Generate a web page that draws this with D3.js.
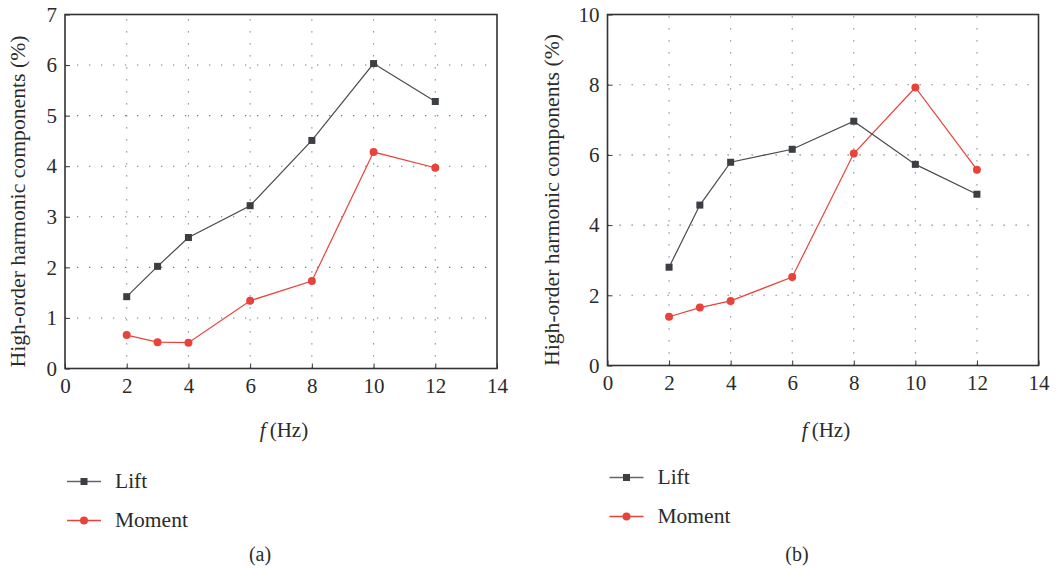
<!DOCTYPE html>
<html>
<head>
<meta charset="utf-8">
<script src="https://cdn.jsdelivr.net/npm/d3@7"></script>
<style>
  body { margin: 0; background: #fff; }
  svg { display: block; }
  svg text { font-family: "Liberation Serif", "Tinos", "Times New Roman", serif; fill: #2b2b2b; }
</style>
</head>
<body>
<svg id="chart" width="1059" height="571"></svg>
<script>
// Frequencies (Hz)
const freqs = [2, 3, 4, 6, 8, 10, 12];

// Panel (a)
const liftA   = [1.42, 2.02, 2.59, 3.22, 4.51, 6.03, 5.28];
const momentA = [0.66, 0.52, 0.51, 1.34, 1.73, 4.28, 3.97];

// Panel (b)
const liftB   = [2.80, 4.57, 5.79, 6.16, 6.96, 5.73, 4.88];
const momentB = [1.39, 1.65, 1.84, 2.52, 6.04, 7.92, 5.58];

const xTicks  = [0, 2, 4, 6, 8, 10, 12, 14];
const yTicksA = [0, 1, 2, 3, 4, 5, 6, 7];
const yTicksB = [0, 2, 4, 6, 8, 10];

const seriesNames = ["Lift", "Moment"];
const yLabel = "High-order harmonic components (%)";

const FONT = '"Liberation Serif", "Tinos", "Times New Roman", serif';
const LIFT_COLOR = "#3b3f43";
const LIFT_LINE = "#4a4a4a";
const MOMENT_COLOR = "#e8433a";

const svg = d3.select("#chart");

function label(sel) {
  return sel.attr("font-family", FONT).style("font-family", FONT).attr("fill", "#2b2b2b");
}

function panel(cfg) {
  const g = svg.append("g");
  const x = d3.scaleLinear().domain([0, 14]).range([cfg.left, cfg.right]);
  const y = d3.scaleLinear().domain([0, cfg.yMax]).range([cfg.bottom, cfg.top]);

  // dotted grid
  g.append("g").selectAll("line").data(xTicks.slice(1, -1)).join("line")
    .attr("x1", d => x(d)).attr("x2", d => x(d))
    .attr("y1", cfg.bottom).attr("y2", cfg.top)
    .attr("stroke", "#777").attr("stroke-width", 1.1)
    .attr("stroke-dasharray", "1.3,10.7");
  g.append("g").selectAll("line").data(cfg.yTicks.slice(1, -1)).join("line")
    .attr("x1", cfg.left).attr("x2", cfg.right)
    .attr("y1", d => y(d)).attr("y2", d => y(d))
    .attr("stroke", "#777").attr("stroke-width", 1.1)
    .attr("stroke-dasharray", "1.3,10.7");

  // axes with short inward ticks
  const xAxis = d3.axisBottom(x).tickValues(xTicks).tickSize(-5).tickPadding(10).tickFormat(d3.format("d"));
  const yAxis = d3.axisLeft(y).tickValues(cfg.yTicks).tickSize(-5).tickPadding(8).tickFormat(d3.format("d"));

  const gx = g.append("g").attr("transform", `translate(0,${cfg.bottom})`).call(xAxis);
  const gy = g.append("g").attr("transform", `translate(${cfg.left},0)`).call(yAxis);
  [gx, gy].forEach(a => {
    a.attr("font-family", FONT).attr("font-size", 21);
    a.select(".domain").remove();
    a.selectAll(".tick line").attr("stroke", "#333").attr("stroke-width", 1);
    label(a.selectAll(".tick text")).style("font-size", "21px");
  });

  // frame
  g.append("rect")
    .attr("x", cfg.left).attr("y", cfg.top)
    .attr("width", cfg.right - cfg.left).attr("height", cfg.bottom - cfg.top)
    .attr("fill", "none").attr("stroke", "#333").attr("stroke-width", 1.6);

  // axis titles
  label(g.append("text"))
    .attr("transform", `translate(${cfg.yLabelX},${(cfg.top + cfg.bottom) / 2 + 10}) rotate(-90)`)
    .attr("text-anchor", "middle").style("font-size", "20px")
    .attr("textLength", 332).attr("lengthAdjust", "spacingAndGlyphs")
    .text(yLabel);
  const xl = label(g.append("text"))
    .attr("x", cfg.xLabelX).attr("y", 437)
    .attr("text-anchor", "middle").style("font-size", "21px");
  xl.append("tspan").style("font-style", "italic").text("f");
  xl.append("tspan").attr("dx", 4).text("(Hz)");

  const line = d3.line().x(d => x(d[0])).y(d => y(d[1]));
  const liftPts = freqs.map((f, i) => [f, cfg.lift[i]]);
  const momPts = freqs.map((f, i) => [f, cfg.moment[i]]);

  g.append("path").datum(momPts).attr("d", line)
    .attr("fill", "none").attr("stroke", MOMENT_COLOR).attr("stroke-width", 1.2);
  g.append("path").datum(liftPts).attr("d", line)
    .attr("fill", "none").attr("stroke", LIFT_LINE).attr("stroke-width", 1.2);

  g.append("g").selectAll("circle").data(momPts).join("circle")
    .attr("cx", d => x(d[0])).attr("cy", d => y(d[1])).attr("r", 4)
    .attr("fill", MOMENT_COLOR);
  g.append("g").selectAll("rect").data(liftPts).join("rect")
    .attr("x", d => x(d[0]) - 3.5).attr("y", d => y(d[1]) - 3.5)
    .attr("width", 7).attr("height", 7).attr("fill", LIFT_COLOR);

  // legend
  const lg = g.append("g");
  seriesNames.forEach((name, i) => {
    const ly = cfg.legendY + i * 39;
    const col = i === 0 ? "#666" : MOMENT_COLOR;
    lg.append("line").attr("x1", cfg.legendX).attr("x2", cfg.legendX + 34)
      .attr("y1", ly).attr("y2", ly).attr("stroke", col).attr("stroke-width", 1.4);
    if (i === 0) {
      lg.append("rect").attr("x", cfg.legendX + 17 - 3.5).attr("y", ly - 3.5)
        .attr("width", 7).attr("height", 7).attr("fill", LIFT_COLOR);
    } else {
      lg.append("circle").attr("cx", cfg.legendX + 17).attr("cy", ly).attr("r", 4)
        .attr("fill", MOMENT_COLOR);
    }
    label(lg.append("text")).attr("x", cfg.legendX + 48).attr("y", ly + 6)
      .style("font-size", "21.5px").text(name);
  });

  label(g.append("text")).attr("x", cfg.tagX).attr("y", 561)
    .attr("text-anchor", "middle").style("font-size", "20px").text(cfg.tag);
}

panel({
  left: 65, right: 497, top: 14.5, bottom: 368.5, yMax: 7, yTicks: yTicksA,
  lift: liftA, moment: momentA, yLabelX: 25, xLabelX: 284,
  legendX: 67, legendY: 481.5, tagX: 260, tag: "(a)"
});
panel({
  left: 607.5, right: 1038.5, top: 14.5, bottom: 365.5, yMax: 10, yTicks: yTicksB,
  lift: liftB, moment: momentB, yLabelX: 559, xLabelX: 826,
  legendX: 609.5, legendY: 477.5, tagX: 797, tag: "(b)"
});
</script>
</body>
</html>
